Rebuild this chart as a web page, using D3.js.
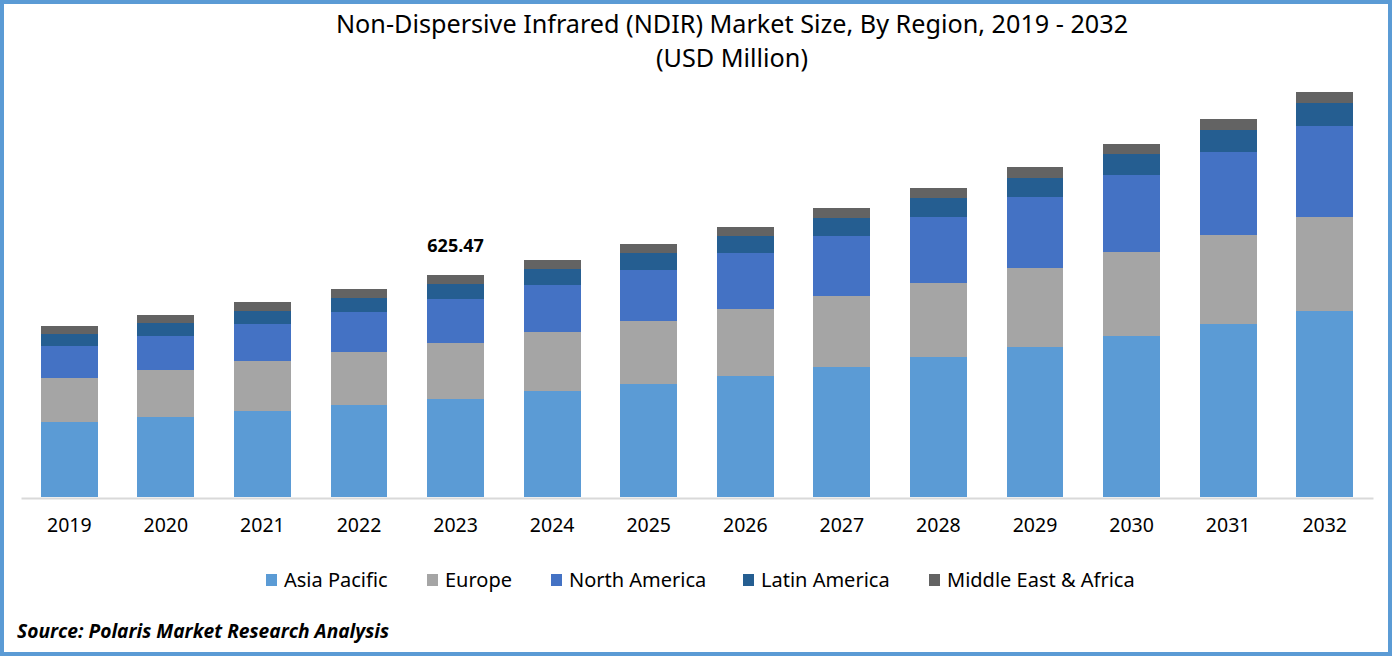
<!DOCTYPE html>
<html><head><meta charset="utf-8">
<script src="https://cdn.jsdelivr.net/npm/d3@7"></script>
<style>html,body{margin:0;padding:0;background:#fff}svg{display:block}text{font-family:"Noto Sans",sans-serif;fill:#000}</style>
</head><body><svg id="c" width="1392" height="656"></svg>
<script>
const years=["2019","2020","2021","2022","2023","2024","2025","2026","2027","2028","2029","2030","2031","2032"];
const regions=["Asia Pacific","Europe","North America","Latin America","Middle East & Africa"];
const colors=["#5b9bd5","#a5a5a5","#4472c4","#255e91","#636363"];
const asiaPacific=[211,225,242,259,276,299,318,341,366,394,423,454,487,524];
const europe=[124,132,141,149,158,166,177,189,200,208,223,237,251,265];
const northAmerica=[90,96,104,113,124,132,144,158,169,186,200,217,234,256];
const latinAmerica=[34,37,37,39,42,45,48,48,51,54,54,59,62,65];
const middleEast=[23,23,25,25,25.47,25,25,25,28,28,31,28,31,31];
const labelledYear="2023", labelledValue="625.47";
const titleLines=["Non-Dispersive Infrared (NDIR) Market Size, By Region, 2019 - 2032","(USD Million)"];
const source="Source: Polaris Market Research Analysis";

const svg=d3.select("#c");
const seriesValues=[asiaPacific,europe,northAmerica,latinAmerica,middleEast];
const rows=years.map((y,i)=>{const r={year:y};regions.forEach((k,j)=>r[k]=seriesValues[j][i]);return r;});
const stack=d3.stack().keys(regions)(rows);
const x=d3.scaleBand().domain(years).range([21,1373]).paddingInner(0.41).paddingOuter(0.205);
const y=d3.scaleLinear().domain([0,625.47]).range([497,275]);

svg.append("g").attr("shape-rendering","crispEdges").selectAll("g").data(stack).join("g").attr("fill",(d,i)=>colors[i])
  .selectAll("rect").data(d=>d).join("rect")
  .attr("x",d=>x(d.data.year)).attr("width",x.bandwidth())
  .attr("y",d=>y(d[1])).attr("height",d=>y(d[0])-y(d[1]));

const ax=svg.append("g").attr("transform","translate(0,498)").call(d3.axisBottom(x).tickSize(0).tickPadding(20));
ax.select(".domain").attr("stroke","#d9d9d9").attr("stroke-width",2);
ax.selectAll("text").attr("font-size",19.5).style("font-family",'"Noto Sans",sans-serif').attr("fill","#000");

svg.append("text").attr("x",x(labelledYear)+x.bandwidth()/2).attr("y",252).attr("text-anchor","middle")
  .attr("font-size",18).attr("font-weight",700).text(labelledValue);

svg.selectAll("text.t").data(titleLines).join("text").attr("class","t").attr("x",732).attr("y",(d,i)=>33+i*34)
  .attr("text-anchor","middle").attr("font-size",25.2).text(d=>d);

const legendX=[265,426,550,742,928];
const lg=svg.selectAll("g.l").data(regions).join("g").attr("class","l");
lg.append("rect").attr("x",(d,i)=>legendX[i]+1).attr("y",574).attr("width",11).attr("height",12).attr("fill",(d,i)=>colors[i]);
lg.append("text").attr("x",(d,i)=>legendX[i]+19).attr("y",587).attr("font-size",20).text(d=>d);

svg.append("text").attr("x",17).attr("y",638).attr("font-size",19.2).attr("font-weight",700).attr("font-style","italic")
  .style("font-family",'"Open Sans",sans-serif').text(source);

svg.append("rect").attr("x",2).attr("y",2).attr("width",1388).attr("height",652).attr("fill","none").attr("stroke","#5b9bd5").attr("stroke-width",4);
</script></body></html>
